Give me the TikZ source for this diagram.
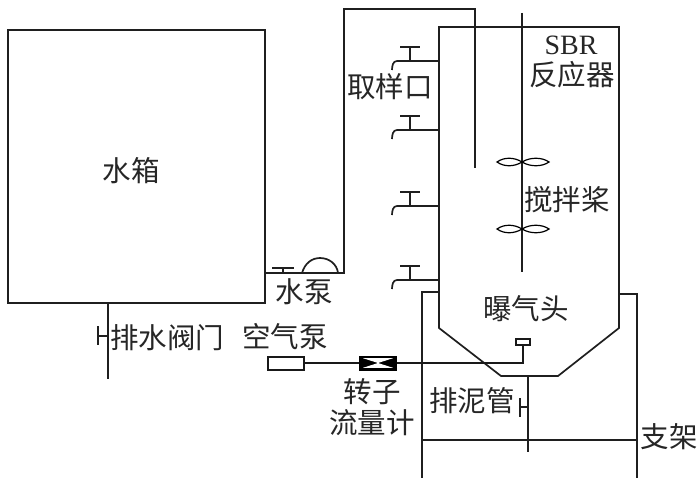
\documentclass[tikz,border=0pt]{standalone}
\usepackage{fontspec}
\setmainfont{Liberation Serif}
\newfontfamily\cjk{Noto Sans CJK SC}
\tikzset{
  x=1pt,y=-1pt,
  pipe/.style={line width=1.7pt,draw=black!88,line cap=butt,line join=miter},
  airline/.style={line width=2.1pt,draw=black!90,line join=miter},
  lab/.style={inner sep=0pt,font=\cjk\fontsize{28.5}{28.5}\selectfont,text=black!85},
  port/.pic={
    \draw[pipe] (0,0) -- (-42,0) to[out=180,in=90] (-47,9);
    \draw[pipe] (-29,0) -- (-29,-14);
    \draw[pipe] (-39,-14) -- (-19,-14);
  },
  paddle/.pic={
    \draw[line width=1.2pt] (0,0) .. controls (-8,-5) and (-18,-5) .. (-25,0) .. controls (-18,5) and (-8,5) .. (0,0)
      .. controls (8,-5) and (20,-5) .. (27,0) .. controls (20,5) and (8,5) .. (0,0);
  }
}
\begin{document}
\begin{tikzpicture}
\useasboundingbox[fill=white] (0,0) rectangle (700,492);
% tank
\coordinate (tl) at (8,30);
\coordinate (br) at (265,303);
\draw[pipe] (tl) rectangle (br);
% feed pipe
\coordinate (feedA) at (265,273);
\coordinate (feedB) at (475,168);
\draw[pipe] (feedA) -- (344,273) -- (344,9) -- (475,9) -- (feedB);
\draw[pipe] (283,273) -- (283,268);
\draw[pipe] (272,268) -- (294,268);
\draw[pipe] (302,273) .. controls (305,263) and (312,258) .. (320,258) .. controls (329,258) and (337,264) .. (338,273);
% drain of tank
\coordinate (dr) at (108,303);
\coordinate (drEnd) at (108,379);
\draw[pipe] (dr) -- (drEnd);
\draw[pipe] (108,336) -- (98,336);
\draw[pipe] (98,326) -- (98,345);
% reactor
\coordinate (rl) at (439,27);
\coordinate (rr) at (619,27);
\draw[pipe] (rl) -- (rr) -- (619,328) -- (558,376) -- (501,376) -- (439,328) -- cycle;
% shaft and paddles
\coordinate (s1) at (522,13);
\coordinate (s2) at (522,272);
\draw[pipe] (s1) -- (s2);
\pic at (522,162) {paddle};
\pic at (522,229) {paddle};
% ports
\pic at (439,61) {port};
\pic at (439,130) {port};
\pic at (439,206) {port};
\pic at (439,280) {port};
% support
\draw[pipe] (439,292) -- (422,292) -- (422,478);
\draw[pipe] (619,294) -- (637,294) -- (637,478);
\draw[pipe] (422,440) -- (637,440);
% sludge pipe
\coordinate (sl1) at (528,376);
\coordinate (sl2) at (528,452);
\draw[pipe] (sl1) -- (sl2);
\draw[pipe] (528,407) -- (520,407);
\draw[pipe] (520,398) -- (520,417);
% air line
\node[draw=black!90,line width=2pt,fill=white,minimum width=36pt,minimum height=13pt,inner sep=0pt,anchor=center] (airpump) at (285.5,363) {};
\node[draw=black,line width=2pt,fill=black,minimum width=36pt,minimum height=13pt,inner sep=0pt] (meter) at (378,363) {};
\fill[white] (363,358.2) -- (393,358.2) -- (378,363) -- cycle;
\fill[white] (363,367.8) -- (393,367.8) -- (378,363) -- cycle;
\node[draw=black!90,line width=2pt,fill=white,minimum width=14pt,minimum height=6pt,inner sep=0pt] (head) at (523,342) {};
\draw[airline] (airpump) -- (meter);
\draw[airline] (meter) -- (523,363) -- (head);
% labels
\node[lab] (l1) at (131,171) {水箱};
\node[lab] (l2) at (390,87) {取样口};
\node[inner sep=0pt,font=\fontsize{28}{28}\selectfont,text=black!85] (l3) at (571,45) {SBR};
\node[lab] (l4) at (572,75) {反应器};
\node[lab] (l5) at (567,200) {搅拌桨};
\node[lab] (l6) at (526,309) {曝气头};
\node[lab] (l7) at (304,292) {水泵};
\node[lab] (l8) at (167,338) {排水阀门};
\node[lab] (l9) at (285,337) {空气泵};
\node[lab] (l10) at (372,392) {转子};
\node[lab] (l11) at (372,423) {流量计};
\node[lab] (l12) at (472,401) {排泥管};
\node[lab] (l13) at (669,437) {支架};
\end{tikzpicture}
\end{document}
